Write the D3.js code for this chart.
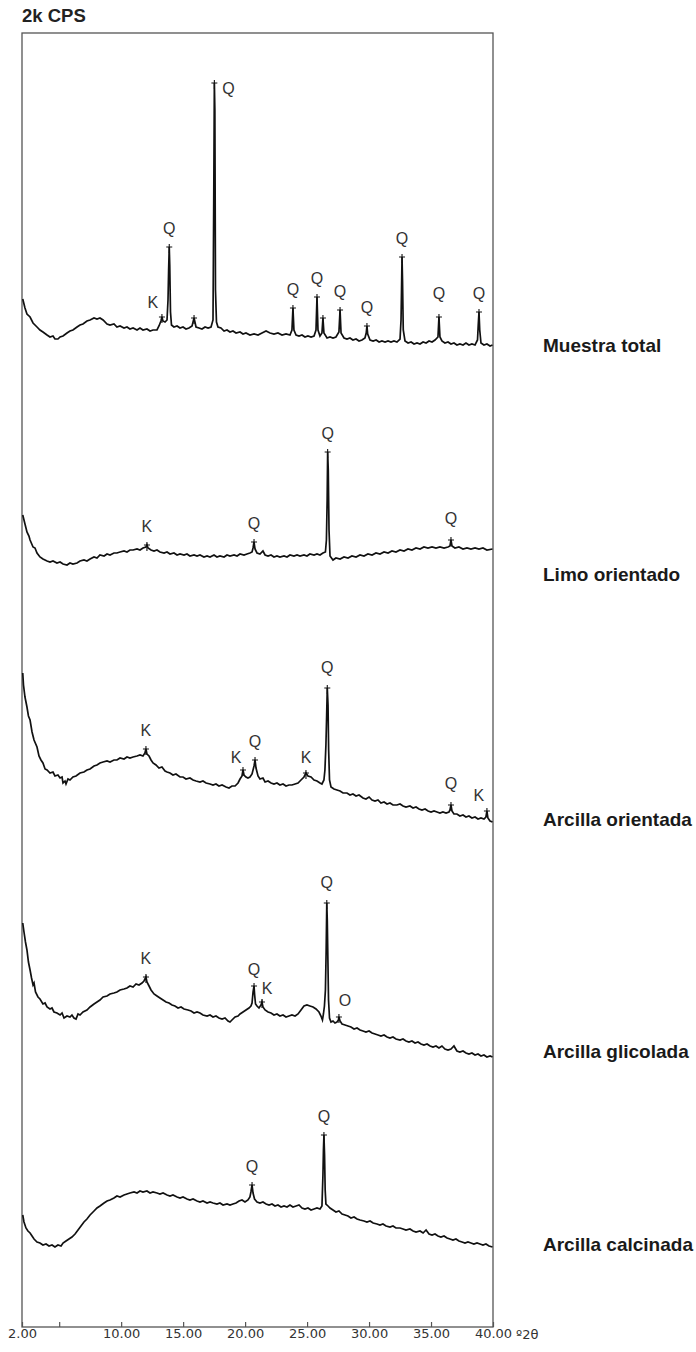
<!DOCTYPE html>
<html>
<head>
<meta charset="utf-8">
<script src="https://cdn.jsdelivr.net/npm/d3@7"></script>
<style>
  body { margin: 0; background: #fff; }
</style>
</head>
<body>
<div id="chart"></div>
<script>
// Diffractogram data: [°2θ, intensity]
const muestraTotal = [
  [2.06,102],[2.24,84],[2.40,72],[2.65,66],[2.89,54],[3.21,46],[3.45,40],[3.69,36],[4.02,30],[4.26,26],[4.50,28],[4.66,22],[4.90,22],[5.07,26],[5.31,28],[5.63,34],[5.87,38],[6.11,40],[6.44,46],[6.68,50],[6.92,52],[7.24,58],[7.49,60],[7.81,64],[8.05,62],[8.29,64],[8.54,60],[8.86,52],[9.10,50],[9.42,52],[9.66,46],[9.91,48],[10.23,44],[10.47,46],[10.71,42],[10.96,44],[11.28,40],[11.52,44],[11.76,40],[12.08,42],[12.33,38],[12.57,40],[12.89,40],[13.05,48],[13.21,58],[13.29,66],[13.37,58],[13.54,56],[13.70,60],[13.78,100],[13.83,160],[13.88,206],[13.92,170],[13.98,76],[14.06,50],[14.26,46],[14.51,48],[14.75,44],[14.99,46],[15.23,42],[15.47,44],[15.72,48],[15.88,64],[16.04,46],[16.28,44],[16.52,42],[16.77,46],[17.01,44],[17.25,46],[17.41,60],[17.47,300],[17.52,534],[17.56,480],[17.61,120],[17.69,56],[17.81,46],[18.05,44],[18.30,38],[18.54,40],[18.78,36],[19.02,38],[19.27,34],[19.59,36],[19.83,32],[20.07,34],[20.39,30],[20.72,32],[21.04,30],[21.36,34],[21.69,38],[22.01,34],[22.33,32],[22.65,34],[22.98,30],[23.30,32],[23.62,30],[23.78,40],[23.86,84],[23.94,40],[24.11,30],[24.35,28],[24.59,30],[24.83,26],[25.07,28],[25.32,26],[25.56,28],[25.72,40],[25.80,106],[25.88,40],[26.04,28],[26.20,34],[26.28,64],[26.36,34],[26.61,24],[26.85,26],[27.09,24],[27.33,26],[27.57,36],[27.66,80],[27.74,34],[27.98,24],[28.22,22],[28.46,24],[28.70,20],[28.95,22],[29.19,18],[29.43,20],[29.67,24],[29.77,34],[29.83,48],[29.89,32],[30.08,20],[30.33,18],[30.57,20],[30.81,16],[31.04,18],[31.29,16],[31.53,18],[31.77,16],[32.01,18],[32.25,16],[32.50,22],[32.58,60],[32.62,120],[32.66,186],[32.70,140],[32.76,40],[32.90,18],[33.15,14],[33.39,16],[33.63,12],[33.87,14],[34.11,12],[34.36,16],[34.60,14],[34.84,18],[35.08,16],[35.32,20],[35.56,26],[35.64,66],[35.72,26],[35.88,18],[36.12,14],[36.37,16],[36.61,12],[36.85,14],[37.09,10],[37.33,12],[37.58,10],[37.82,14],[38.06,10],[38.30,12],[38.55,10],[38.75,20],[38.81,50],[38.87,76],[38.93,40],[39.03,14],[39.27,10],[39.51,12],[39.76,8],[39.96,10]
];

const limoOrientado = [
  [2.06,110],[2.24,92],[2.40,76],[2.56,68],[2.65,60],[2.89,46],[3.05,44],[3.21,34],[3.45,26],[3.69,22],[4.02,18],[4.26,16],[4.50,18],[4.82,14],[5.07,16],[5.31,12],[5.63,10],[5.87,14],[6.11,12],[6.44,14],[6.68,18],[7.00,20],[7.24,18],[7.49,22],[7.81,26],[8.05,24],[8.29,30],[8.62,28],[8.86,32],[9.10,30],[9.42,34],[9.66,34],[9.91,36],[10.23,38],[10.47,36],[10.71,40],[10.96,40],[11.28,42],[11.52,40],[11.76,44],[12.00,46],[12.08,50],[12.17,44],[12.41,40],[12.65,38],[12.89,40],[13.13,36],[13.46,34],[13.70,36],[13.94,32],[14.26,34],[14.51,30],[14.75,32],[15.07,30],[15.31,32],[15.55,28],[15.88,30],[16.12,28],[16.36,30],[16.68,26],[16.93,28],[17.17,26],[17.49,30],[17.73,26],[17.97,28],[18.30,26],[18.54,30],[18.78,28],[19.11,30],[19.35,28],[19.59,32],[19.91,30],[20.15,32],[20.39,34],[20.56,36],[20.64,44],[20.72,56],[20.80,42],[20.96,34],[21.20,32],[21.44,38],[21.61,30],[21.85,28],[22.09,30],[22.33,26],[22.57,28],[22.81,26],[23.14,28],[23.38,26],[23.62,30],[23.94,28],[24.19,30],[24.43,28],[24.75,30],[24.99,28],[25.23,32],[25.56,30],[25.80,32],[26.04,30],[26.28,34],[26.48,36],[26.56,60],[26.62,140],[26.66,236],[26.71,200],[26.77,80],[26.85,28],[27.09,20],[27.33,24],[27.66,22],[27.98,26],[28.30,24],[28.62,28],[28.95,26],[29.27,30],[29.59,28],[29.91,32],[30.24,30],[30.56,34],[30.88,32],[31.21,36],[31.53,34],[31.85,38],[32.17,36],[32.50,40],[32.82,38],[33.14,42],[33.46,40],[33.79,44],[34.11,42],[34.43,46],[34.75,44],[35.08,46],[35.40,44],[35.72,46],[36.05,44],[36.37,46],[36.53,48],[36.61,60],[36.69,48],[36.93,44],[37.25,46],[37.58,42],[37.90,44],[38.22,42],[38.55,44],[38.87,42],[39.19,44],[39.51,40],[39.96,42]
];

const arcillaOrientada = [
  [2.06,314],[2.12,290],[2.24,266],[2.40,246],[2.52,228],[2.65,220],[2.81,196],[2.97,180],[3.21,166],[3.37,148],[3.53,140],[3.69,134],[3.86,122],[4.02,120],[4.26,114],[4.50,116],[4.66,108],[4.90,110],[5.07,104],[5.23,106],[5.31,94],[5.47,98],[5.55,92],[5.71,102],[5.87,100],[6.11,106],[6.36,108],[6.68,114],[7.00,116],[7.24,120],[7.49,122],[7.81,128],[8.05,130],[8.29,134],[8.54,136],[8.86,138],[9.10,136],[9.42,140],[9.66,140],[9.91,144],[10.23,142],[10.47,146],[10.71,144],[10.96,146],[11.28,148],[11.52,150],[11.76,148],[11.92,154],[12.00,162],[12.08,152],[12.25,148],[12.41,140],[12.57,134],[12.81,130],[13.05,124],[13.29,126],[13.54,118],[13.70,116],[13.94,114],[14.18,110],[14.42,112],[14.75,106],[14.99,106],[15.23,102],[15.55,104],[15.80,100],[16.04,98],[16.36,96],[16.60,98],[16.85,94],[17.17,92],[17.41,90],[17.65,92],[17.89,88],[18.14,90],[18.46,86],[18.70,84],[18.94,88],[19.19,88],[19.43,94],[19.59,102],[19.75,108],[19.83,120],[19.91,110],[20.07,106],[20.23,104],[20.39,106],[20.56,112],[20.72,128],[20.80,140],[20.88,124],[21.04,108],[21.20,102],[21.44,104],[21.61,96],[21.85,98],[22.09,94],[22.33,92],[22.57,94],[22.81,90],[23.06,92],[23.30,88],[23.54,90],[23.78,90],[24.03,92],[24.27,94],[24.51,100],[24.75,106],[24.91,114],[25.07,108],[25.32,106],[25.56,100],[25.80,98],[26.04,94],[26.20,92],[26.36,100],[26.44,120],[26.52,170],[26.58,230],[26.63,284],[26.69,250],[26.74,160],[26.81,100],[26.93,86],[27.17,82],[27.41,80],[27.66,78],[27.90,74],[28.22,74],[28.46,70],[28.70,72],[28.95,68],[29.19,70],[29.51,64],[29.75,62],[30.00,66],[30.24,60],[30.48,58],[30.72,60],[30.96,54],[31.21,56],[31.45,52],[31.69,54],[31.93,50],[32.25,50],[32.50,52],[32.74,48],[32.98,46],[33.30,48],[33.55,44],[33.79,46],[34.03,42],[34.27,40],[34.52,42],[34.76,38],[35.00,36],[35.24,38],[35.48,36],[35.72,34],[35.96,36],[36.21,34],[36.45,36],[36.53,40],[36.61,50],[36.69,38],[36.85,32],[37.09,32],[37.33,28],[37.58,30],[37.82,26],[38.06,28],[38.30,24],[38.55,26],[38.79,22],[39.03,24],[39.27,22],[39.43,26],[39.51,38],[39.59,24],[39.76,18],[39.96,16]
];

const arcillaGlicolada = [
  [2.06,274],[2.16,256],[2.28,236],[2.40,220],[2.52,196],[2.65,180],[2.77,164],[2.89,150],[2.97,154],[3.09,136],[3.29,126],[3.45,122],[3.69,112],[3.86,114],[4.02,106],[4.26,102],[4.42,104],[4.58,96],[4.82,94],[5.07,90],[5.23,94],[5.39,84],[5.63,88],[5.87,86],[6.03,90],[6.19,84],[6.36,82],[6.52,92],[6.68,90],[6.92,96],[7.24,100],[7.49,106],[7.81,112],[8.05,116],[8.29,120],[8.54,126],[8.86,128],[9.10,132],[9.42,134],[9.66,136],[9.91,140],[10.23,142],[10.47,144],[10.71,148],[10.96,146],[11.20,152],[11.44,150],[11.68,154],[11.84,158],[12.00,166],[12.08,156],[12.25,148],[12.41,140],[12.65,132],[12.89,128],[13.13,124],[13.38,120],[13.62,116],[13.86,114],[14.10,110],[14.34,108],[14.59,104],[14.83,106],[15.07,102],[15.39,100],[15.64,98],[15.88,94],[16.12,96],[16.36,94],[16.60,90],[16.93,88],[17.17,90],[17.41,86],[17.65,88],[17.89,84],[18.14,82],[18.38,84],[18.62,78],[18.78,76],[18.94,80],[19.19,86],[19.43,88],[19.59,92],[19.83,96],[20.07,100],[20.31,104],[20.47,108],[20.56,114],[20.64,136],[20.72,148],[20.77,130],[20.84,112],[20.96,108],[21.12,104],[21.28,110],[21.36,116],[21.44,106],[21.61,100],[21.85,96],[22.09,94],[22.33,90],[22.57,92],[22.81,88],[23.06,90],[23.30,86],[23.54,88],[23.78,90],[24.03,88],[24.27,92],[24.51,100],[24.75,108],[24.99,110],[25.23,108],[25.48,106],[25.72,102],[25.96,96],[26.12,88],[26.24,80],[26.32,92],[26.40,108],[26.48,140],[26.54,220],[26.59,314],[26.63,280],[26.68,200],[26.73,120],[26.81,84],[26.93,76],[27.09,78],[27.25,74],[27.41,76],[27.53,80],[27.57,86],[27.66,78],[27.82,72],[28.06,70],[28.30,68],[28.54,66],[28.79,62],[29.03,64],[29.27,60],[29.51,58],[29.75,56],[30.00,58],[30.24,54],[30.48,52],[30.72,50],[30.96,48],[31.21,50],[31.45,46],[31.69,44],[31.93,46],[32.17,42],[32.50,40],[32.74,42],[32.98,38],[33.22,36],[33.46,38],[33.71,34],[33.95,36],[34.19,32],[34.43,30],[34.68,32],[34.92,28],[35.16,26],[35.40,28],[35.64,24],[35.88,28],[36.12,22],[36.37,20],[36.61,22],[36.85,28],[37.09,18],[37.33,16],[37.58,18],[37.82,14],[38.06,12],[38.30,14],[38.55,10],[38.79,12],[39.03,8],[39.27,10],[39.51,6],[39.76,8],[39.96,6]
];

const arcillaCalcinada = [
  [2.06,70],[2.16,56],[2.32,44],[2.48,38],[2.65,34],[2.81,28],[2.97,22],[3.21,16],[3.45,14],[3.69,10],[3.94,12],[4.18,8],[4.42,10],[4.66,6],[4.90,10],[5.15,8],[5.31,14],[5.55,18],[5.79,22],[6.03,26],[6.28,32],[6.52,40],[6.76,48],[7.00,56],[7.24,62],[7.49,70],[7.81,78],[8.05,84],[8.29,88],[8.62,94],[8.86,98],[9.10,100],[9.42,104],[9.66,108],[9.91,106],[10.23,110],[10.47,112],[10.71,114],[11.04,116],[11.28,114],[11.52,118],[11.76,116],[12.08,118],[12.33,114],[12.57,116],[12.89,114],[13.13,112],[13.38,114],[13.70,110],[13.94,108],[14.18,110],[14.51,106],[14.75,104],[14.99,106],[15.31,102],[15.55,100],[15.80,102],[16.12,98],[16.36,96],[16.60,98],[16.93,94],[17.17,96],[17.41,94],[17.73,92],[17.97,94],[18.22,90],[18.54,92],[18.78,90],[19.02,92],[19.27,94],[19.51,98],[19.75,100],[19.99,96],[20.23,100],[20.39,106],[20.47,116],[20.56,130],[20.64,114],[20.76,102],[20.96,96],[21.20,94],[21.44,96],[21.69,92],[21.93,90],[22.17,92],[22.41,88],[22.65,90],[22.90,86],[23.14,88],[23.38,86],[23.62,90],[23.86,86],[24.11,88],[24.35,90],[24.59,84],[24.83,82],[25.07,84],[25.32,80],[25.56,82],[25.80,84],[26.04,82],[26.20,88],[26.28,150],[26.32,200],[26.36,230],[26.41,190],[26.46,120],[26.52,92],[26.69,88],[26.85,84],[27.09,80],[27.33,76],[27.57,78],[27.82,72],[28.06,70],[28.30,68],[28.54,64],[28.79,66],[29.03,62],[29.27,60],[29.59,58],[29.83,56],[30.08,58],[30.33,54],[30.64,52],[30.88,50],[31.12,52],[31.37,48],[31.69,46],[31.93,48],[32.17,44],[32.50,44],[32.74,42],[32.98,40],[33.30,42],[33.55,38],[33.79,36],[34.11,38],[34.36,34],[34.60,40],[34.84,32],[35.08,30],[35.32,32],[35.56,28],[35.80,26],[36.05,28],[36.29,24],[36.53,22],[36.77,20],[37.01,22],[37.25,18],[37.50,16],[37.74,14],[37.98,16],[38.22,14],[38.46,12],[38.71,14],[38.95,12],[39.19,10],[39.43,12],[39.68,8],[39.96,6]
];

// Peak identifications: [°2θ, mineral]
const peaksMuestra   = [[13.29,"K"],[13.88,"Q"],[15.88,""],[17.52,"Q"],[23.86,"Q"],[25.80,"Q"],[26.28,""],[27.66,"Q"],[29.83,"Q"],[32.66,"Q"],[35.64,"Q"],[38.87,"Q"]];
const peaksLimo      = [[12.08,"K"],[20.72,"Q"],[26.66,"Q"],[36.61,"Q"]];
const peaksOrientada = [[12.00,"K"],[19.83,"K"],[20.80,"Q"],[24.91,"K"],[26.63,"Q"],[36.61,"Q"],[39.51,"K"]];
const peaksGlicolada = [[12.00,"K"],[20.72,"Q"],[21.36,"K"],[26.59,"Q"],[27.57,"O"]];
const peaksCalcinada = [[20.56,"Q"],[26.36,"Q"]];

const sampleNames = ["Muestra total", "Limo orientado", "Arcilla orientada", "Arcilla glicolada", "Arcilla calcinada"];
const offsets = [1954, 1514, 994, 534, 154];

const xTicks = [2, 5, 10, 15, 20, 25, 30, 35, 40];
const xTickLabels = ["2.00", "", "10.00", "15.00", "20.00", "25.00", "30.00", "35.00", "40.00"];

const series = [muestraTotal, limoOrientado, arcillaOrientada, arcillaGlicolada, arcillaCalcinada];
const peaks = [peaksMuestra, peaksLimo, peaksOrientada, peaksGlicolada, peaksCalcinada];

// Layout
const W = 696, H = 1352;
const plot = { left: 22, right: 493, top: 33, bottom: 1327 };
const nameY = [352, 581, 826, 1058, 1251];
// label nudges [dx, dy] relative to peak top
const labelNudge = {
  "0-13.29": [-9, -9], "0-17.52": [14, 11], "0-35.64": [0, -18],
  "1-36.61": [0, -16],
  "2-19.83": [-7, -7], "2-24.91": [0, -10], "2-26.63": [0, -15], "2-36.61": [0, -16], "2-39.51": [-8, -10],
  "3-20.72": [0, -11], "3-21.36": [5, -8], "3-26.59": [0, -15], "3-27.57": [6, -11]
};

const svg = d3.select("#chart")
  .append("svg")
    .attr("width", W)
    .attr("height", H)
    .style("font-family", "'Liberation Sans', Arial, sans-serif");

const x = d3.scaleLinear().domain([2, 40]).range([plot.left, plot.right]);
const y = d3.scaleLinear().domain([0, 2588]).range([plot.bottom, plot.top]);

// Frame
svg.append("rect")
  .attr("x", plot.left)
  .attr("y", plot.top)
  .attr("width", plot.right - plot.left)
  .attr("height", plot.bottom - plot.top)
  .attr("fill", "none")
  .attr("stroke", "#555")
  .attr("stroke-width", 1.3);

// X axis
const xAxis = svg.append("g")
  .attr("transform", `translate(0, ${plot.bottom})`)
  .call(d3.axisBottom(x)
    .tickValues(xTicks)
    .tickFormat((d, i) => xTickLabels[i])
    .tickSize(-5)
    .tickPadding(2));
xAxis.select(".domain").remove();
xAxis.selectAll(".tick line").attr("stroke", "#555").attr("stroke-width", 1.2);
xAxis.selectAll(".tick text")
  .attr("fill", "#333")
  .style("font-family", "'DejaVu Sans', sans-serif")
  .style("font-size", "13px");

svg.append("text")
  .attr("x", 516)
  .attr("y", plot.bottom + 11.5)
  .attr("fill", "#333")
  .style("font-family", "'DejaVu Sans', sans-serif")
  .style("font-size", "13px")
  .text("º2θ");

// Y unit label
svg.append("text")
  .attr("x", 22)
  .attr("y", 22)
  .attr("fill", "#222")
  .style("font-size", "18.5px")
  .style("font-weight", "bold")
  .text("2k CPS");

// Traces
series.forEach((data, i) => {
  const off = offsets[i];
  const line = d3.line()
    .x(d => x(d[0]))
    .y(d => y(d[1] + off));

  svg.append("path")
    .datum(data)
    .attr("fill", "none")
    .attr("stroke", "#111")
    .attr("stroke-width", 1.7)
    .attr("d", line);

  // Peak markers and labels
  peaks[i].forEach(([t, lab]) => {
    const near = data.filter(d => Math.abs(d[0] - t) < 0.1);
    const top = d3.greatest(near, d => d[1]);
    const px = x(top[0]);
    const py = y(top[1] + off);

    svg.append("path")
      .attr("d", `M${px},${py - 3}V${py + 6}M${px - 3},${py}H${px + 3}`)
      .attr("stroke", "#111")
      .attr("stroke-width", 1.1)
      .attr("fill", "none");

    if (lab) {
      const nudge = labelNudge[`${i}-${t.toFixed(2)}`] || [0, -13];
      svg.append("text")
        .attr("x", px + nudge[0])
        .attr("y", py + nudge[1])
        .attr("text-anchor", "middle")
        .attr("fill", "#333")
        .style("font-size", "16px")
        .text(lab);
    }
  });

  // Sample name
  svg.append("text")
    .attr("x", 543)
    .attr("y", nameY[i])
    .attr("fill", "#1a1a1a")
    .style("font-size", "19px")
    .style("font-weight", "bold")
    .text(sampleNames[i]);
});
</script>
</body>
</html>
